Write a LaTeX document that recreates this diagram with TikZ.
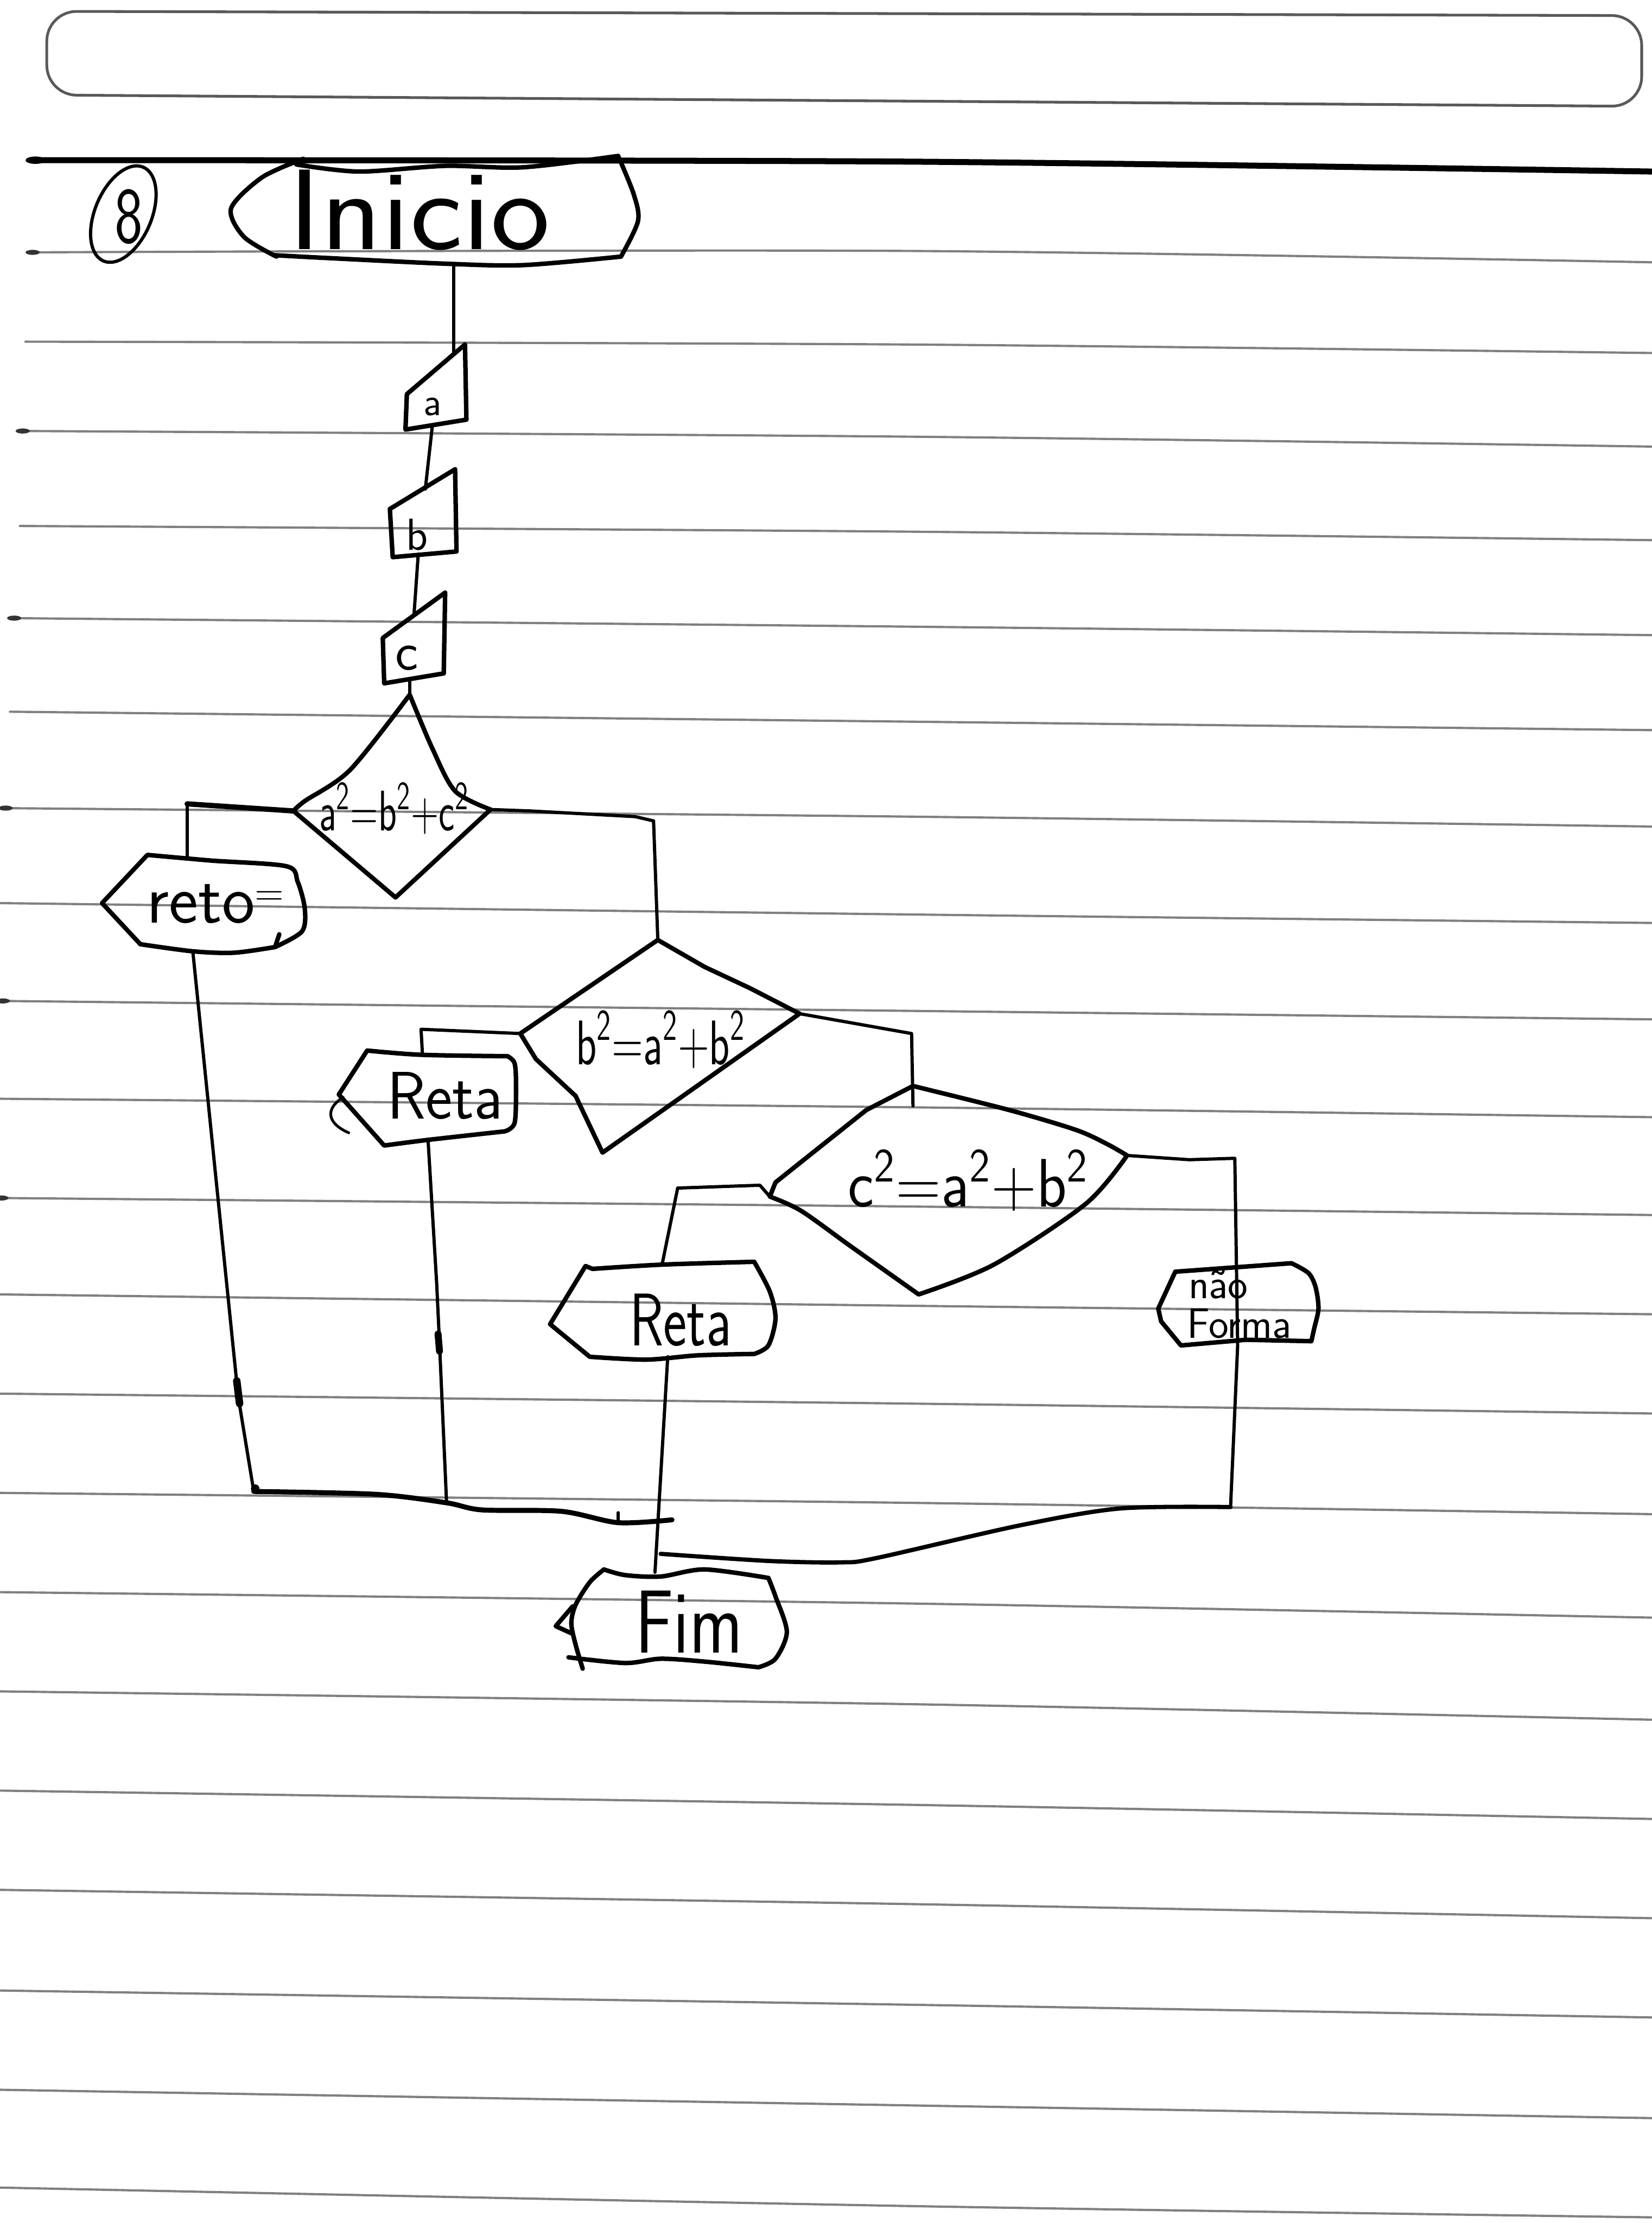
\documentclass[tikz,border=0pt]{standalone}
\usepackage{fontspec}
\renewcommand{\familydefault}{\sfdefault}
\begin{document}
\begin{tikzpicture}[x=0.02cm,y=-0.02cm, line join=round, line cap=round,
  paper/.style={black!50, line width=0.9pt},
  pen/.style={black, line width=1.8pt},
  wire/.style={black, line width=1.3pt},
  hw/.style={inner sep=0pt, text=black}]
\useasboundingbox (0,0) rectangle (1165,1568);
\fill[white] (0,0) rectangle (1165,1568);

% ruled paper
\foreach \xa/\ya/\ym/\yb in {20/178/177/185, 18/241/243/249, 14/304/308/315, 14/371/375/381, 8/436/442/448, 7/502/509/515, 0/570/576/583, 0/637/645/651, 0/706/713/719, 0/775/781/788, 0/845/851/857, 0/913/921/927, 0/983/990/997, 0/1053/1060/1068, 0/1123/1131/1141, 0/1193/1202/1213, 0/1263/1273/1283, 0/1333/1343/1353, 0/1404/1414/1423, 0/1474/1485/1494, 0/1543/1556/1564}
  \draw[paper] plot[smooth] coordinates {(\xa,\ya) (640,\ym) (1165,\yb)};
\foreach \dx/\dy in {23/178, 16/304, 10/436, 4/570, 2/706, 1/845}
  \fill[black!80] (\dx,\dy) ellipse [x radius=5, y radius=1.8];
\draw[black!65, line width=1.1pt, rounded corners=12] (33,8) -- (1158,11) -- (1158,75) -- (33,67) -- cycle;
\draw[black, line width=2.4pt] plot[smooth] coordinates {(22,113) (640,114) (1165,121)};
\fill (25,113) ellipse [x radius=7, y radius=2.6];

% circled 8
\draw[black, line width=1.3pt] plot[domain=0:360, samples=73, variable=\t] ({87+14*cos(\t)+18.4*sin(\t)},{151-33.1*cos(\t)+7.8*sin(\t)});
\node[hw, font=\sffamily\fontsize{32}{32}\selectfont, xscale=0.75, transform shape] (eight) at (91,153) {8};

% Inicio
\draw[pen] plot[smooth] coordinates {(214,112) (185,125) (163,147) (172,167) (195,181)};
\draw[pen] plot[smooth] coordinates {(209,116) (253,121) (314,117) (369,118) (436,110)};
\draw[pen] plot[smooth] coordinates {(436,110) (447,137) (450,156) (438,181)};
\draw[pen] plot[smooth] coordinates {(193,180) (231,182) (314,186) (369,187) (438,181)};
\node[hw, font=\sffamily\fontsize{46}{46}\selectfont, anchor=base west, xscale=1.1, transform shape] (inicio) at (203,176) {Inicio};
\coordinate (inicioS) at (320,186);

% inputs a, b, c
\draw[pen] (287,278) -- (328,243) -- (329,296) -- (286,303) -- cycle;
\node[hw, font=\sffamily\fontsize{16}{16}\selectfont] (ta) at (305,287) {a};
\coordinate (aN) at (320,250); \coordinate (aS) at (305,300);
\draw[pen] (275,359) -- (321,331) -- (322,389) -- (277,393) -- cycle;
\node[hw, font=\sffamily\fontsize{18}{18}\selectfont] (tb) at (294,377) {b};
\coordinate (bN) at (300,345); \coordinate (bS) at (295,391);
\draw[pen] (270,450) -- (314,418) -- (313,475) -- (271,482) -- cycle;
\node[hw, font=\sffamily\fontsize{22}{22}\selectfont] (tc) at (287,464) {c};
\coordinate (cN) at (292,434); \coordinate (cS) at (289,480);

\draw[wire] (inicioS) -- (aN);
\draw[wire] (aS) -- (bN);
\draw[wire] (bS) -- (cN);

% diamond 1
\coordinate (d1n) at (289,490); \coordinate (d1e) at (346,571);
\coordinate (d1s) at (279,633); \coordinate (d1w) at (207,572);
\draw[wire] (cS) -- (d1n);
\draw[pen] plot[smooth] coordinates {(289,490) (305,528) (321,558) (346,571)} -- (d1s) -- (d1w) -- plot[smooth] coordinates {(207,572) (215,565) (247,543) (289,490)};
\node[hw, font=\sffamily\fontsize{17}{17}\selectfont, xscale=0.9, yscale=1.35, transform shape, anchor=base] (t1) at (278,586) {a\textsuperscript{2}=b\textsuperscript{2}+c\textsuperscript{2}};

% reto box
\draw[pen] (99,666) -- (72,637) -- (104,603) -- plot[smooth] coordinates {(104,603) (149,607) (202,611) (210,622) (215,641) (213,657) (194,668)};
\draw[pen] plot[smooth] coordinates {(194,668) (165,672) (136,671) (99,666)};
\draw[pen] (194,668) -- (197,659);
\node[hw, font=\sffamily\fontsize{28}{28}\selectfont, anchor=base] (treto) at (152,651) {reto{\fontsize{16}{16}\selectfont\raisebox{7pt}{=}}};
\coordinate (retoN) at (132,604); \coordinate (retoS) at (136,671);
\coordinate (j1) at (132,567);
\draw[wire, line width=2.1pt] (d1w) -- (j1);
\draw[wire] (j1) -- (retoN);

% diamond 2
\coordinate (d2n) at (464,663); \coordinate (d2e) at (564,715);
\coordinate (d2s) at (425,813); \coordinate (d2w) at (367,729);
\draw[wire] (d1e) -- (374,572) -- (448,576) -- (461,579) -- (d2n);
\draw[pen] (d2n) -- (497,682) -- (529,697) -- (d2e) -- (d2s) -- (406,773) -- (378,747) -- (d2w) -- cycle;
\node[hw, font=\sffamily\fontsize{23}{23}\selectfont, xscale=0.75, yscale=1.1, transform shape, anchor=base] (t2) at (466,751) {b\textsuperscript{2}=a\textsuperscript{2}+b\textsuperscript{2}};

% Reta box 2
\draw[pen] plot[smooth] coordinates {(259,741) (297,744) (358,745)} -- plot[smooth] coordinates {(358,745) (363,750) (364,766) (363,792) (356,798)} -- plot[smooth] coordinates {(356,798) (302,804) (271,808)} -- (239,772) -- (259,741);
\draw[pen, line width=1.1pt] (242,774) .. controls (228,783) and (232,793) .. (246,799);
\node[hw, font=\sffamily\fontsize{27}{27}\selectfont, xscale=0.95, transform shape, anchor=base] (tr2) at (314,789) {Reta};
\coordinate (r2N) at (298,744); \coordinate (r2S) at (302,805);
\coordinate (j2) at (297,726);
\draw[wire] (d2w) -- (j2) -- (r2N);

% diamond 3
\coordinate (d3n) at (644,766); \coordinate (d3e) at (795,815);
\coordinate (d3s) at (648,913); \coordinate (d3w) at (543,844);
\coordinate (j3) at (643,729); \coordinate (d3in) at (644,780);
\draw[wire] (d2e) -- (j3) -- (d3in);
\draw[pen] plot[smooth] coordinates {(644,766) (712,783) (759,797) (781,807) (795,815)} -- plot[smooth] coordinates {(795,815) (766,849) (701,892) (648,913)} -- plot[smooth] coordinates {(648,913) (600,879) (565,854) (543,844)} -- (547,834) -- (611,783) -- (d3n);
\node[hw, font=\sffamily\fontsize{25}{25}\selectfont, yscale=1.1, transform shape, anchor=base] (t3) at (683,851) {c\textsuperscript{2}=a\textsuperscript{2}+b\textsuperscript{2}};

% Reta box 3
\draw[pen] (413,893) -- plot[smooth] coordinates {(418,895) (467,892) (532,890)} -- plot[smooth] coordinates {(532,890) (543,911) (547,930) (542,949) (532,955)} -- plot[smooth] coordinates {(532,955) (492,956) (456,959) (416,957)} -- (388,934) -- cycle;
\node[hw, font=\sffamily\fontsize{30}{30}\selectfont, xscale=0.75, transform shape, anchor=base] (tr3) at (480,949) {Reta};
\coordinate (r3N) at (467,892); \coordinate (r3S) at (471,957);
\draw[wire] (d3w) -- (536,836) -- (478,838) -- (r3N);

% nao forma box
\draw[pen] (829,897) -- (911,891) -- plot[smooth] coordinates {(911,891) (923,898) (928,908) (930,923) (927,937) (925,946)} -- (879,945) -- (833,949) -- (819,932) -- (817,923) -- cycle;
\node[hw, font=\sffamily\fontsize{17}{17}\selectfont, anchor=base west] (tnao) at (838,916) {não};
\node[hw, font=\sffamily\fontsize{17}{17}\selectfont, anchor=base west] (tforma) at (837,944) {Forma};
\coordinate (j5) at (871,817); \coordinate (j6) at (868,1063);
\draw[wire] (d3e) -- (839,818) -- (j5) -- (873,949) -- (j6);

% Fim
\draw[pen] plot[smooth] coordinates {(426,1107) (441,1111) (466,1112) (497,1107) (542,1113)} -- plot[smooth] coordinates {(542,1113) (547,1126) (555,1151) (547,1170) (535,1176)} -- plot[smooth] coordinates {(535,1176) (497,1172) (466,1170) (441,1173) (401,1169)};
\draw[pen] plot[smooth] coordinates {(426,1107) (416,1116) (406,1132) (403,1145) (406,1160) (411,1177)};
\draw[pen] (404,1133) -- (392,1147) -- (403,1152);
\node[hw, font=\sffamily\fontsize{36}{36}\selectfont, xscale=0.8, transform shape, anchor=base] (tfim) at (486,1166) {Fim};
\coordinate (fimN) at (462,1109);

% merging lines
\coordinate (j7) at (179,1052);
\draw[wire] (retoS) -- (168,985) -- (j7);
\draw[black, line width=3pt] (167,974) -- (169,990);
\draw[wire] (r2S) -- (308,905) -- (310,947) -- (315,1060);
\draw[black, line width=2.8pt] (309,941) -- (310,953);
\draw[wire] (r3S) -- (fimN);
\draw[wire, line width=2pt] plot[smooth] coordinates {(179,1052) (265,1054) (315,1060) (340,1065) (396,1066) (436,1074) (474,1072)};
\draw[wire] (436,1067) -- (436,1074);
\fill (180,1050) circle (3);
\draw[wire, line width=1.7pt] plot[smooth] coordinates {(868,1063) (790,1064) (719,1076) (618,1099) (593,1102) (542,1101) (466,1096)};
\end{tikzpicture}
\end{document}
